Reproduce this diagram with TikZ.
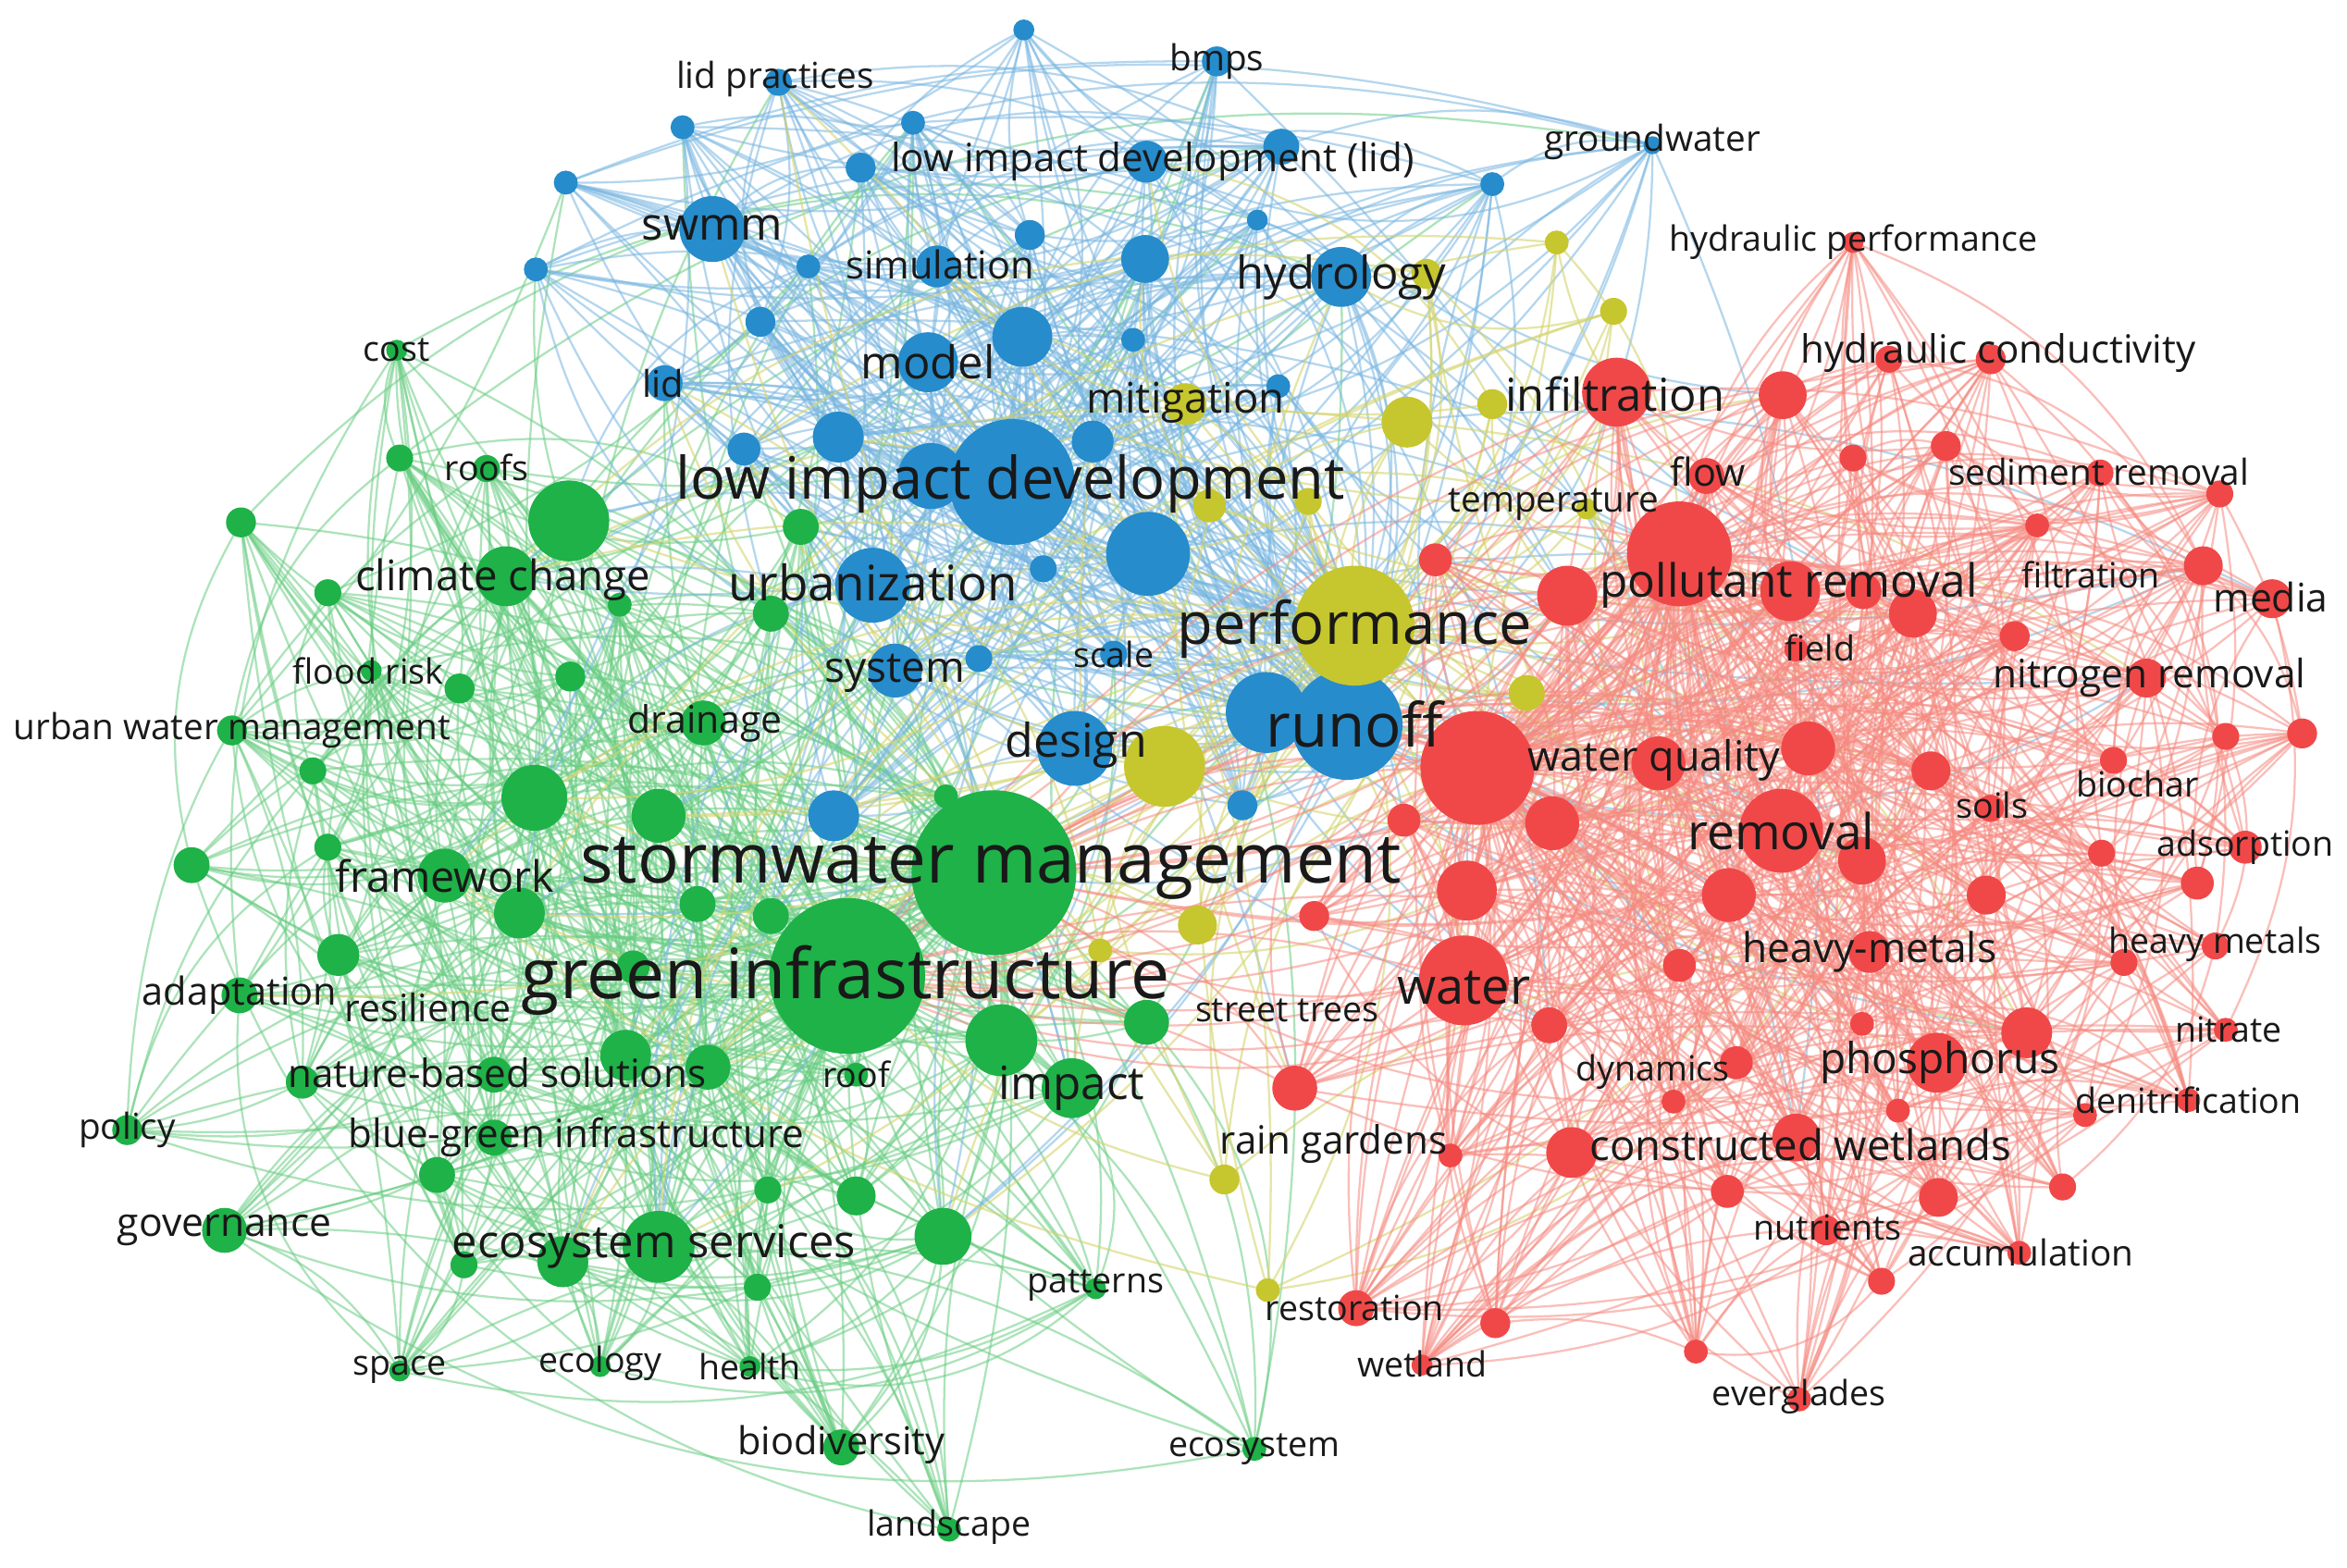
\documentclass[tikz,border=0pt]{standalone}
\usepackage{fontspec}
\setmainfont{Open Sans}
\pgfdeclarelayer{background}
\pgfsetlayers{background,main}
\definecolor{gC}{RGB}{30,178,72}
\definecolor{bC}{RGB}{38,140,204}
\definecolor{rC}{RGB}{240,72,72}
\definecolor{yC}{RGB}{198,198,46}
\definecolor{gE}{RGB}{105,205,130}
\definecolor{bE}{RGB}{120,182,225}
\definecolor{rE}{RGB}{246,138,128}
\definecolor{yE}{RGB}{212,212,110}
\definecolor{txt}{RGB}{25,25,25}
\newcommand\rndbend{\pgfmathparse{int((2*random(0,1)-1)*random(10,30))}\let\bd\pgfmathresult}
\tikzset{
  nd/.style={circle,inner sep=0pt,outer sep=0pt,minimum size=#1*0.02cm},
  gn/.style={nd=#1,fill=gC},
  bn/.style={nd=#1,fill=bC},
  rn/.style={nd=#1,fill=rC},
  yn/.style={nd=#1,fill=yC},
  lab/.style={text=txt,inner sep=0pt,font=\fontsize{#1}{#1}\selectfont},
  ge/.style={draw=gE,line width=0.4pt,opacity=0.55},
  be/.style={draw=bE,line width=0.4pt,opacity=0.55},
  re/.style={draw=rE,line width=0.4pt,opacity=0.55},
  ye/.style={draw=yE,line width=0.4pt,opacity=0.6},
}
\begin{document}
\begin{tikzpicture}[x=0.01cm,y=-0.01cm]
\useasboundingbox (0,0) rectangle (1568,1047);
% ---------- green cluster nodes
\foreach \n/\x/\y/\r in {1/664/583/55,2/566/652/52,3/380/348/27,4/338/385/20,5/357/533/22,6/440/545/18,7/297/585/18,8/347/610/17,9/669/695/24,10/716/727/20,11/766/683/15,12/630/826/19,13/440/833/24,14/376/843/17,15/418/705/17,16/473/713/15,17/515/612/12,18/470/483/15,19/535/352/12,20/515/410/12,21/226/638/14,22/160/665/12,23/128/578/12,24/150/822/15,25/292/785/12,26/330/718/12,27/330/760/12,28/202/723/11,29/85/755/10,30/209/515/9,31/219/396/9,32/161/349/10,33/267/306/9,34/265/234/7,35/325/313/9,36/307/460/10,37/381/452/10,38/219/566/9,39/248/448/7,40/155/488/10,41/310/845/9,42/267/916/7,43/401/913/7,44/501/913/7,45/562/967/12,46/634/1022/8,47/732/861/7,48/838/968/8,49/572/799/13,50/513/795/9,51/506/860/9,52/423/646/11,53/466/604/12,54/572/718/8,55/632/532/8,56/414/404/8}
  {\node[gn=\r] (g\n) at (\x,\y) {};}
% ---------- blue cluster nodes
\foreach \n/\x/\y/\r in {1/676/322/42,2/583/391/25,3/767/370/28,4/900/484/37,5/846/476/27,6/718/500/25,7/598/448/18,8/620/242/20,9/683/225/20,10/560/292/17,11/476/153/22,12/626/178/14,13/896/185/20,14/765/173/16,15/766/108/14,16/856/98/12,17/813/41/10,18/520/55/9,19/444/256/12,20/497/300/11,21/557/545/17,22/654/440/9,23/744/437/9,24/830/538/10,25/730/295/14,26/622/318/22,27/508/215/10,28/540/178/8,29/456/85/8,30/378/122/8,31/358/180/8,32/575/112/10,33/610/82/8,34/684/20/7,35/688/157/10,36/757/227/8,37/840/147/7,38/997/123/8,39/1104/97/6,40/854/258/8,41/697/380/9}
  {\node[bn=\r] (b\n) at (\x,\y) {};}
% ---------- yellow cluster nodes
\foreach \n/\x/\y/\r in {1/905/418/40,2/778/512/27,3/792/270/14,4/940/282/17,5/997/270/10,6/808/338/11,7/874/335/9,8/1020/463/12,9/800/618/13,10/735/635/8,11/818/788/10,12/847/862/8,13/1040/162/8,14/1078/208/9,15/953/183/10,16/1060/340/7}
  {\node[yn=\r] (y\n) at (\x,\y) {};}
% ---------- red cluster nodes
\foreach \n/\x/\y/\r in {1/987/513/38,2/1122/370/35,3/1190/555/28,4/978/655/30,5/1080/262/23,6/1047/398/20,7/1037/550/18,8/1108/510/18,9/1208/500/18,10/1155/598/18,11/1244/575/16,12/1196/395/20,13/1278/410/16,14/1191/264/16,15/1294/710/20,16/1354/690/17,17/1050/770/17,18/1200/760/16,19/1249/636/14,20/1327/598/13,21/1290/515/13,22/980/595/20,23/1035/685/12,24/1122/645/11,25/865/727/15,26/938/548/11,27/959/374/11,28/1472/378/13,29/1518/400/13,30/1434/453/13,31/1468/590/11,32/1500/566/11,33/1404/570/9,34/1295/800/13,35/1220/822/10,36/1154/796/11,37/1257/856/9,38/1378/793/9,39/1393/745/8,40/1349/837/8,41/1462/735/8,42/1419/643/9,43/1480/632/9,44/1330/540/9,45/1412/508/9,46/1487/492/9,47/1538/490/10,48/1361/351/8,49/1346/425/10,50/1300/298/10,51/1238/306/9,52/1262/240/9,53/1330/240/10,54/1403/316/9,55/1483/330/9,56/1238/162/7,57/1140/318/12,58/1202/935/8,59/1133/903/8,60/999/884/10,61/906/874/12,62/950/912/7,63/969/772/8,64/878/612/10,65/1160/710/11,66/1244/684/8,67/1268/742/8,68/1118/736/8,69/1487/688/8,70/1200/434/8,71/1245/395/12}
  {\node[rn=\r] (r\n) at (\x,\y) {};}
% ---------- connectors
\begin{pgfonlayer}{background}
\fill[white] (0,0) rectangle (1568,1047);
\pgfmathsetseed{11}
% green
\foreach \i in {1,...,56}{
  \rndbend
  \ifnum\i>1 \draw[ge] (g\i.center) to[bend left=\bd] (g1.center);\fi
  \rndbend
  \ifnum\i>2 \draw[ge] (g\i.center) to[bend left=\bd] (g2.center);\fi
  \foreach \k in {1,...,6}{
    \pgfmathrandominteger{\j}{1}{56}
    \rndbend
    \ifnum\i=\j\else\draw[ge] (g\i.center) to[bend left=\bd] (g\j.center);\fi
  }
  \pgfmathrandominteger{\j}{1}{41}
  \rndbend
  \draw[ge] (g\i.center) to[bend left=\bd] (b\j.center);
}
% blue
\foreach \i in {1,...,41}{
  \rndbend
  \ifnum\i>1 \draw[be] (b\i.center) to[bend left=\bd] (b1.center);\fi
  \rndbend
  \ifnum\i=4\else\draw[be] (b\i.center) to[bend left=\bd] (b4.center);\fi
  \foreach \k in {1,...,5}{
    \pgfmathrandominteger{\j}{1}{41}
    \rndbend
    \ifnum\i=\j\else\draw[be] (b\i.center) to[bend left=\bd] (b\j.center);\fi
  }
  \pgfmathrandominteger{\j}{1}{20}
  \rndbend
  \draw[be] (b\i.center) to[bend left=\bd] (g\j.center);
  \pgfmathrandominteger{\j}{1}{30}
  \rndbend
  \draw[be] (b\i.center) to[bend left=\bd] (r\j.center);
  \rndbend
  \draw[be] (b\i.center) to[bend left=\bd] (y1.center);
}
% yellow
\foreach \i in {2,...,16}{
  \rndbend
  \draw[ye] (y\i.center) to[bend left=\bd] (y1.center);
  \foreach \k in {1,2}{
    \pgfmathrandominteger{\j}{1}{30}
    \rndbend
    \draw[ye] (y\i.center) to[bend left=\bd] (r\j.center);
    \pgfmathrandominteger{\j}{1}{25}
    \rndbend
    \draw[ye] (y\i.center) to[bend left=\bd] (b\j.center);
  }
  \pgfmathrandominteger{\j}{1}{16}
  \rndbend
  \draw[ye] (y\i.center) to[bend left=\bd] (g\j.center);
}
\foreach \j in {1,2,3,4,5,6,7,8,9,10,12,13,14,15,16,22}{
  \rndbend
  \draw[ye] (y1.center) to[bend left=\bd] (r\j.center);
  \rndbend
  \draw[ye] (y1.center) to[bend left=\bd] (g\j.center);
}
% red
\foreach \i in {1,...,71}{
  \rndbend
  \ifnum\i>1 \draw[re] (r\i.center) to[bend left=\bd] (r1.center);\fi
  \rndbend
  \ifnum\i=2\else\draw[re] (r\i.center) to[bend left=\bd] (r2.center);\fi
  \foreach \k in {1,...,6}{
    \pgfmathrandominteger{\j}{1}{71}
    \rndbend
    \ifnum\i=\j\else\draw[re] (r\i.center) to[bend left=\bd] (r\j.center);\fi
  }
  \pgfmathrandominteger{\j}{1}{12}
  \rndbend
  \ifnum\i=\j\else\draw[re] (r\i.center) to[bend left=\bd] (r\j.center);\fi
}
\foreach \j in {1,2,3,4,5,6,9,10,11,12,13,16,21,25,49,53}{
  \rndbend
  \draw[re] (r\j.center) to[bend left=\bd] (g1.center);
  \rndbend
  \draw[re] (r\j.center) to[bend left=\bd] (g2.center);
  \rndbend
  \draw[re] (r\j.center) to[bend left=\bd] (b4.center);
}
\end{pgfonlayer}
% ---------- labels: green
\node[lab=13.1] (tSM) at (662,580) {stormwater management};
\node[lab=13.2] (tGI) at (565,655) {green infrastructure};
\node[lab=8.6] (tES) at (437,833) {ecosystem services};
\node[lab=7.4] (tBG) at (385,760) {blue-green infrastructure};
\node[lab=7.4] (tNB) at (332,717) {nature-based solutions};
\node[lab=8] (tCC) at (336,387) {climate change};
\node[lab=8.2] (tFW) at (297,585) {framework};
\node[lab=7.3] (tAD) at (160,665) {adaptation};
\node[lab=7.2] (tRE) at (286,673) {resilience};
\node[lab=6.8] (tUW) at (155,488) {urban water management};
\node[lab=7.2] (tDR) at (471,483) {drainage};
\node[lab=6.6] (tFR) at (246,448) {flood risk};
\node[lab=6.6] (tRF) at (325,312) {roofs};
\node[lab=6.6] (tCO) at (265,234) {cost};
\node[lab=6.8] (tPO) at (85,755) {policy};
\node[lab=7.5] (tGO) at (150,822) {governance};
\node[lab=6.6] (tSP) at (267,915) {space};
\node[lab=6.6] (tEC) at (401,911) {ecology};
\node[lab=6.6] (tHE) at (501,913) {health};
\node[lab=7.3] (tBI) at (562,965) {biodiversity};
\node[lab=6.6] (tLA) at (634,1020) {landscape};
\node[lab=6.6] (tPA) at (732,859) {patterns};
\node[lab=6.6] (tEY) at (838,968) {ecosystem};
\node[lab=8.7] (tIM) at (716,727) {impact};
\node[lab=6.6] (tRO) at (572,718) {roof};
\node[lab=6.6] (tST) at (860,675) {street trees};
% blue
\node[lab=11.1] (tLID) at (675,323) {low impact development};
\node[lab=9.3] (tUR) at (583,389) {urbanization};
\node[lab=11.5] (tRU) at (905,484) {runoff};
\node[lab=8.8] (tDE) at (719,498) {design};
\node[lab=8.1] (tSY) at (598,450) {system};
\node[lab=6.6] (tSC) at (744,437) {scale};
\node[lab=8.6] (tMO) at (620,242) {model};
\node[lab=7] (tLI) at (443,256) {lid};
\node[lab=8.6] (tSW) at (476,152) {swmm};
\node[lab=7.3] (tSI) at (628,177) {simulation};
\node[lab=8.6] (tHY) at (896,185) {hydrology};
\node[lab=7.4] (tLL) at (770,108) {low impact development (lid)};
\node[lab=6.8] (tLP) at (518,53) {lid practices};
\node[lab=6.8] (tBM) at (813,41) {bmps};
\node[lab=6.8] (tGW) at (1104,95) {groundwater};
% yellow
\node[lab=11.1] (tPE) at (905,420) {performance};
\node[lab=8] (tMI) at (792,269) {mitigation};
\node[lab=6.8] (tTE) at (1038,337) {temperature};
% red
\node[lab=8.6] (tIN) at (1079,263) {infiltration};
\node[lab=6.6] (tHP) at (1238,162) {hydraulic performance};
\node[lab=7.4] (tHC) at (1335,236) {hydraulic conductivity};
\node[lab=7.3] (tFL) at (1141,315) {flow};
\node[lab=6.8] (tSR) at (1402,315) {sediment removal};
\node[lab=8.7] (tPR) at (1195,391) {pollutant removal};
\node[lab=6.6] (tFI) at (1397,384) {filtration};
\node[lab=7.5] (tME) at (1517,399) {media};
\node[lab=6.6] (tFD) at (1216,433) {field};
\node[lab=7.45] (tNR) at (1436,453) {nitrogen removal};
\node[lab=7.9] (tWQ) at (1105,508) {water quality};
\node[lab=9.4] (tRM) at (1190,555) {removal};
\node[lab=6.6] (tSO) at (1331,538) {soils};
\node[lab=6.6] (tBC) at (1428,524) {biochar};
\node[lab=6.6] (tAS) at (1500,566) {adsorption};
\node[lab=7.8] (tHM) at (1249,636) {heavy-metals};
\node[lab=6.6] (tHN) at (1480,631) {heavy metals};
\node[lab=9.5] (tWA) at (978,660) {water};
\node[lab=6.6] (tNI) at (1489,688) {nitrate};
\node[lab=8.1] (tPH) at (1296,710) {phosphorus};
\node[lab=6.6] (tDY) at (1104,716) {dynamics};
\node[lab=6.6] (tDN) at (1462,735) {denitrification};
\node[lab=8] (tCW) at (1203,765) {constructed wetlands};
\node[lab=7.4] (tRG) at (891,764) {rain gardens};
\node[lab=6.6] (tNU) at (1221,820) {nutrients};
\node[lab=6.8] (tAC) at (1350,837) {accumulation};
\node[lab=6.6] (tRS) at (905,874) {restoration};
\node[lab=6.6] (tWE) at (950,911) {wetland};
\node[lab=6.6] (tEV) at (1202,933) {everglades};
\end{tikzpicture}
\end{document}
